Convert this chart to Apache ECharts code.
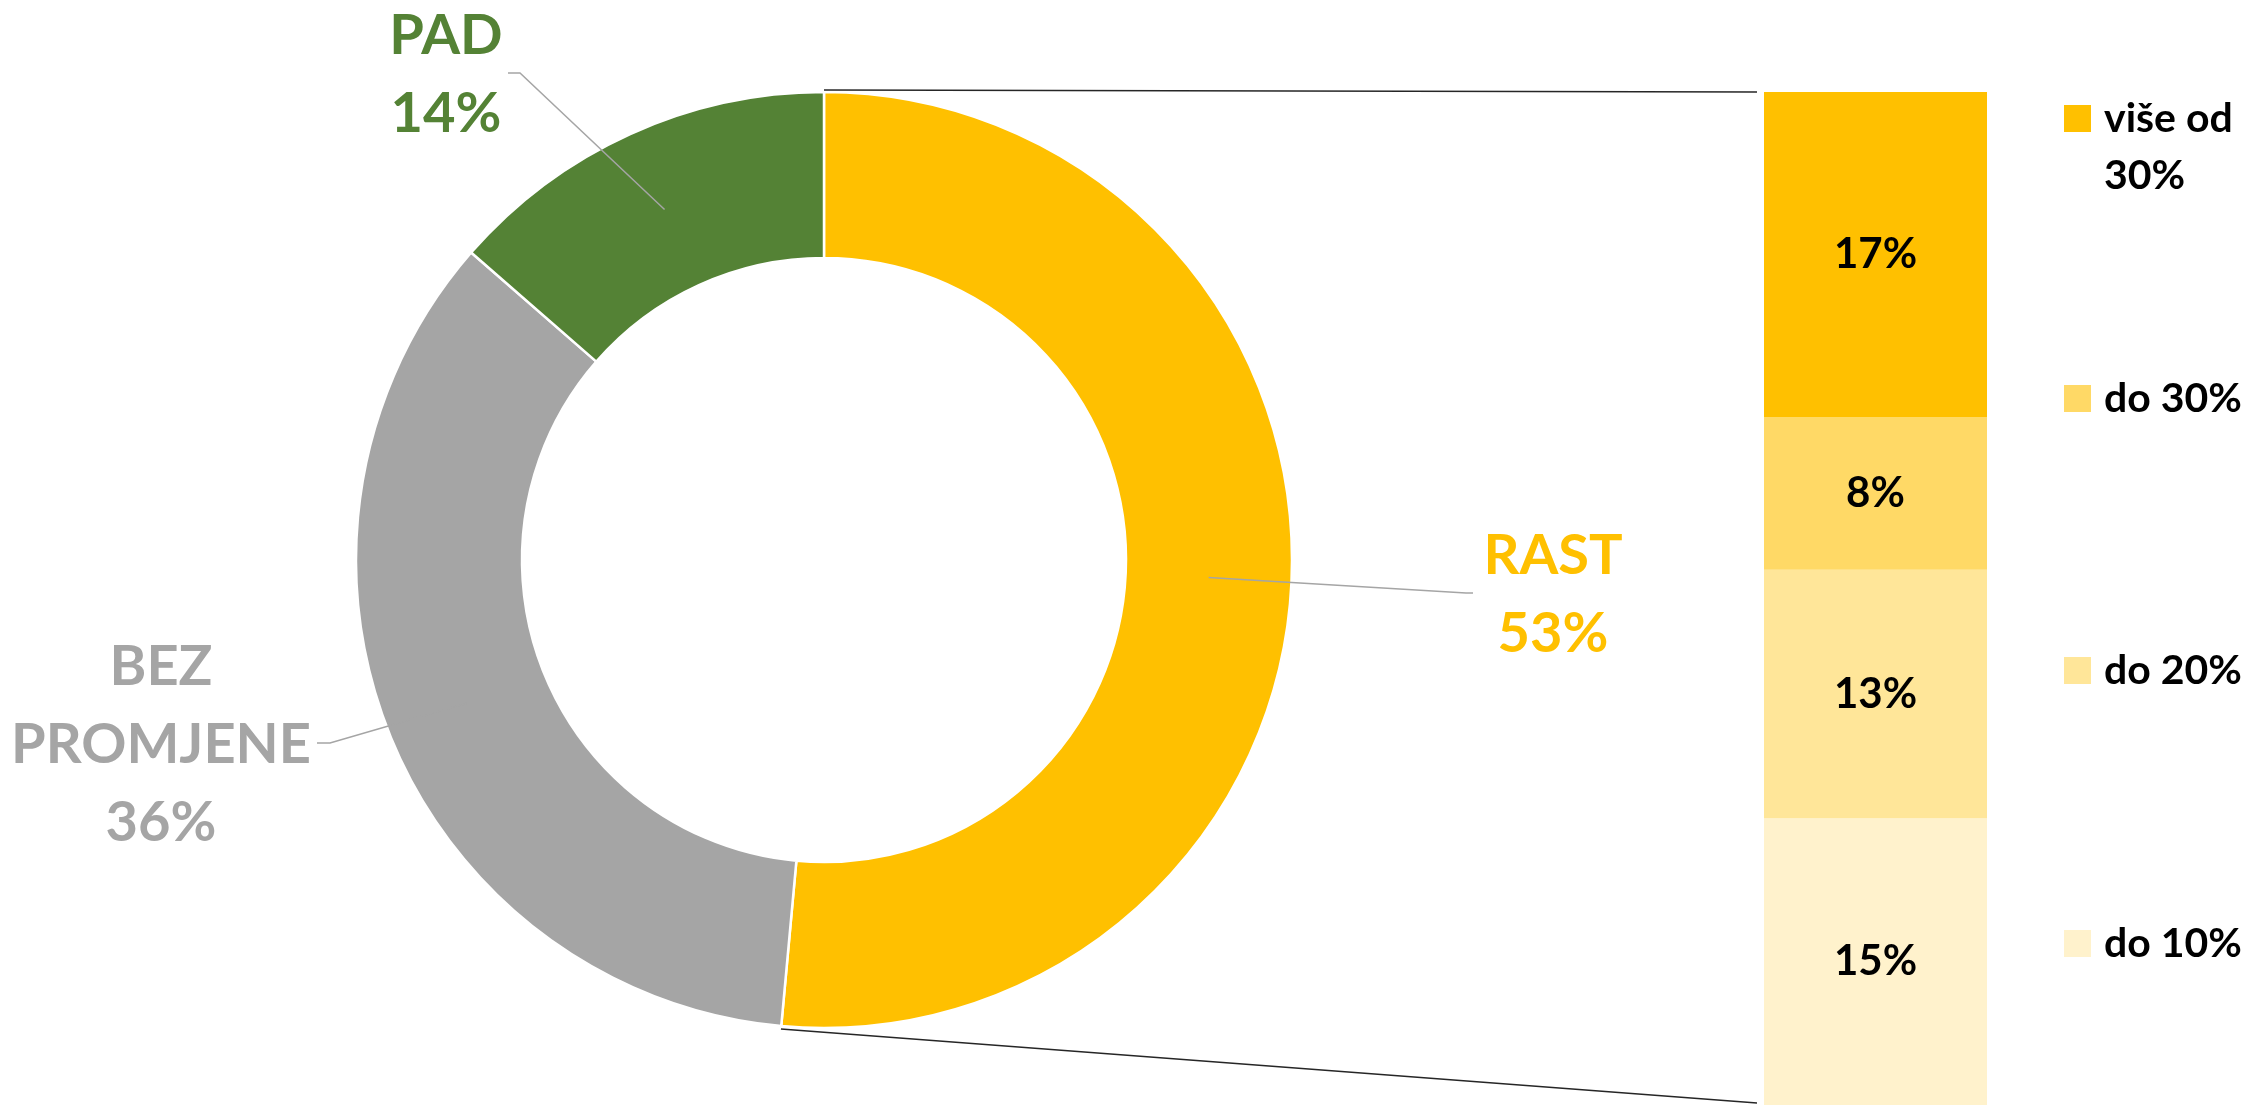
<!DOCTYPE html>
<html>
<head>
<meta charset="utf-8">
<script src="https://cdn.jsdelivr.net/npm/echarts@6/dist/echarts.min.js"></script>
<style>
  html, body { margin: 0; padding: 0; background: #fff; }
  #chart { width: 2259px; height: 1106px; }
</style>
</head>
<body>
<div id="chart"></div>
<script>
// Pie: share of answers
var pieNames = ['RAST', 'BEZ PROMJENE', 'PAD'];
var pieValues = [53, 36, 14];
var pieColors = ['#FFC000', '#A5A5A5', '#548235'];

// Bar: breakdown of RAST, listed bottom to top
var barNames = ['do 10%', 'do 20%', 'do 30%', 'više od 30%'];
var barValues = [15, 13, 8, 17];
var barColors = ['#FFF2CC', '#FFE699', '#FFD966', '#FFC000'];

var font = 'Lato, "Open Sans", sans-serif';

// layout
var cx = 824, cy = 560, rIn = 302, rOut = 468;
var gLeft = 1764, gTop = 92, gWidth = 223, gHeight = 1013;

// pie label spots: [label centre x, label centre y, elbow x, elbow y, line end x]
var pieLabelSpots = [
  [1553, 595, 1466, 593, 1473],
  [161, 745, 330, 743, 317],
  [446, 75, 520, 73, 508]
];

// legend square tops, top to bottom
var legendTops = [105, 378, 650, 923];

var pieTotal = pieValues.reduce(function (a, b) { return a + b; }, 0);
var barTotal = barValues.reduce(function (a, b) { return a + b; }, 0);

// angle in degrees clockwise from 12 o'clock
function piePoint(deg, r) {
  var a = deg * Math.PI / 180;
  return [cx + r * Math.sin(a), cy - r * Math.cos(a)];
}

var midAngles = [];
var acc = 0;
pieValues.forEach(function (v) {
  midAngles.push((acc + v / 2) / pieTotal * 360);
  acc += v;
});

// long legend names go on two lines, first line level with the square
// (leading blank line because the legend centres the text block on the square)
function wrapName(name) {
  if (name.length <= 8) return name;
  var i = name.lastIndexOf(' ');
  return '\n' + name.slice(0, i) + '\n' + name.slice(i + 1);
}

var chartDom = document.getElementById('chart');
var myChart = echarts.init(chartDom);
var option;

var legends = barNames.slice().reverse().map(function (name, i) {
  var twoLine = name.length > 8;
  return {
    data: [name],
    orient: 'vertical',
    left: 2064,
    top: twoLine ? legendTops[i] - 72 : legendTops[i],
    padding: 0,
    itemWidth: 27,
    itemHeight: 27,
    icon: 'rect',
    selectedMode: false,
    formatter: wrapName,
    textStyle: {
      fontFamily: font,
      fontWeight: 'bold',
      fontSize: 41,
      color: '#000',
      lineHeight: twoLine ? 57 : 27,
      padding: [0, 0, 0, 8]
    }
  };
});

var barSeries = barNames.map(function (name, i) {
  return {
    name: name,
    type: 'bar',
    stack: 'rast',
    barWidth: '100%',
    silent: true,
    data: [barValues[i]],
    itemStyle: { color: barColors[i] },
    label: {
      show: true,
      position: 'inside',
      formatter: '{c}%',
      fontFamily: font,
      fontWeight: 'bold',
      fontSize: 42,
      color: '#000'
    }
  };
});

// connectors from the RAST slice to the bar
var topPt = piePoint(0, rOut + 2);
var endPt = piePoint(pieValues[0] / pieTotal * 360, rOut + 3);
var connectors = [
  { type: 'line', z: 100,
    shape: { x1: topPt[0], y1: topPt[1], x2: gLeft - 7, y2: gTop },
    style: { stroke: '#262626', lineWidth: 1.5 } },
  { type: 'line', z: 100,
    shape: { x1: endPt[0], y1: endPt[1], x2: gLeft - 7, y2: gTop + gHeight - 2 },
    style: { stroke: '#262626', lineWidth: 1.5 } }
];

// pie label lines start in the middle of the ring and sit on top of the slices
var labelLines = pieLabelSpots.map(function (s, i) {
  var start = piePoint(midAngles[i], (rIn + rOut) / 2);
  return {
    type: 'polyline', z: 100,
    shape: { points: [start, [s[2], s[3]], [s[4], s[3]]] },
    style: { stroke: '#A5A5A5', lineWidth: 1.5, fill: null }
  };
});

option = {
  animation: false,
  backgroundColor: '#fff',
  legend: legends,
  grid: { left: gLeft, top: gTop, width: gWidth, height: gHeight },
  xAxis: { type: 'category', data: ['RAST'], show: false },
  yAxis: { type: 'value', min: 0, max: barTotal, show: false },
  graphic: connectors.concat(labelLines),
  series: [
    {
      type: 'pie',
      center: [cx, cy],
      radius: [rIn, rOut],
      startAngle: 90,
      clockwise: true,
      avoidLabelOverlap: false,
      silent: true,
      itemStyle: { borderColor: '#fff', borderWidth: 2.5 },
      label: {
        show: true,
        position: 'outside',
        overflow: 'none',
        fontFamily: font,
        fontWeight: 'bold',
        fontSize: 56,
        lineHeight: 78,
        formatter: function (p) {
          return p.name.split(' ').join('\n') + '\n' + p.value + '%';
        }
      },
      labelLine: { show: false },
      labelLayout: function (p) {
        var s = pieLabelSpots[p.dataIndex];
        return { x: s[0], y: s[1], align: 'center', verticalAlign: 'middle' };
      },
      data: pieNames.map(function (n, i) {
        return {
          name: n,
          value: pieValues[i],
          itemStyle: { color: pieColors[i] },
          label: { color: pieColors[i] }
        };
      })
    }
  ].concat(barSeries)
};

option && myChart.setOption(option);
</script>
</body>
</html>
